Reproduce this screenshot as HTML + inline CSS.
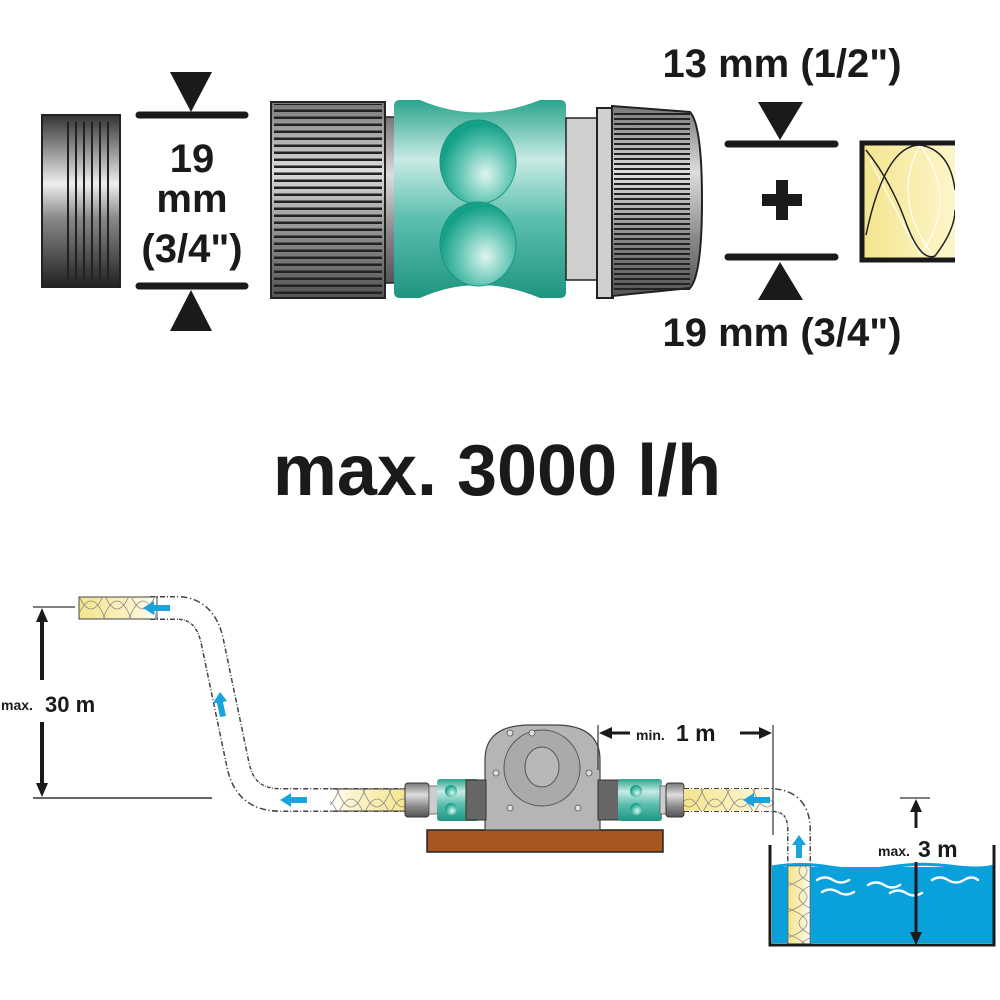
<!DOCTYPE html>
<html><head><meta charset="utf-8"><style>
html,body{margin:0;padding:0;background:#fff;}
svg{display:block;}
text{font-family:"Liberation Sans",sans-serif;font-weight:bold;fill:#1a1a1a;}
</style></head><body>
<svg width="1000" height="1000" viewBox="0 0 1000 1000" xmlns="http://www.w3.org/2000/svg">
<defs>
<linearGradient id="metal" x1="0" y1="0" x2="0" y2="1">
<stop offset="0" stop-color="#333"/><stop offset="0.4" stop-color="#eee"/><stop offset="0.6" stop-color="#888"/><stop offset="1" stop-color="#222"/>
</linearGradient>
<linearGradient id="gray" x1="0" y1="0" x2="0" y2="1">
<stop offset="0" stop-color="#777"/><stop offset="0.35" stop-color="#ddd"/><stop offset="0.7" stop-color="#888"/><stop offset="1" stop-color="#555"/>
</linearGradient>
<linearGradient id="green" x1="0" y1="0" x2="0" y2="1">
<stop offset="0" stop-color="#2aa48c"/><stop offset="0.3" stop-color="#c8ebe5"/><stop offset="0.6" stop-color="#5cbfae"/><stop offset="1" stop-color="#1e9580"/>
</linearGradient>
<radialGradient id="btn" cx="0.6" cy="0.65" r="0.6">
<stop offset="0" stop-color="#e0f5f1"/><stop offset="0.6" stop-color="#5cc3b0"/><stop offset="1" stop-color="#15a088"/>
</radialGradient>
<linearGradient id="yel" x1="0" y1="0" x2="1" y2="0">
<stop offset="0" stop-color="#f3e58e"/><stop offset="1" stop-color="#fdf6cc"/>
</linearGradient>
<linearGradient id="yel2" x1="0" y1="0" x2="1" y2="0">
<stop offset="0" stop-color="#f4e48a"/><stop offset="0.7" stop-color="#fbf3c8"/><stop offset="1" stop-color="#fff"/>
</linearGradient>
<pattern id="knurl" width="8" height="7" patternUnits="userSpaceOnUse"><rect y="4.5" width="8" height="2.5" fill="#222"/></pattern>
<pattern id="knurl2" width="8" height="5" patternUnits="userSpaceOnUse"><rect y="3" width="8" height="2" fill="#222"/></pattern>
<pattern id="wave" width="26" height="22" patternUnits="userSpaceOnUse"><path d="M0,0 Q13,30 26,0 M0,22 Q13,-8 26,22" fill="none" stroke="#888" stroke-width="0.8"/></pattern>
<pattern id="waveV" width="22" height="26" patternUnits="userSpaceOnUse"><path d="M0,0 Q30,13 0,26 M22,0 Q-8,13 22,26" fill="none" stroke="#888" stroke-width="0.8"/></pattern>
<clipPath id="hc"><rect x="864" y="145" width="91" height="113"/></clipPath>
</defs>

<rect x="42" y="115" width="78" height="172" fill="url(#metal)" stroke="#222" stroke-width="2"/>
<g stroke="#222" stroke-width="2">
<line x1="68" y1="122" x2="68" y2="280"/><line x1="76" y1="122" x2="76" y2="280"/><line x1="84" y1="122" x2="84" y2="280"/><line x1="92" y1="122" x2="92" y2="280"/><line x1="100" y1="122" x2="100" y2="280"/><line x1="108" y1="122" x2="108" y2="280"/>
</g>

<line x1="139" y1="115" x2="245" y2="115" stroke="#1a1a1a" stroke-width="7" stroke-linecap="round"/>
<line x1="139" y1="286" x2="245" y2="286" stroke="#1a1a1a" stroke-width="7" stroke-linecap="round"/>
<polygon points="170,72 212,72 191,112" fill="#1a1a1a"/>
<polygon points="170,331 212,331 191,290" fill="#1a1a1a"/>
<text x="192" y="172" font-size="40" text-anchor="middle">19</text>
<text x="192" y="212" font-size="40" text-anchor="middle">mm</text>
<text x="192" y="262" font-size="40" text-anchor="middle">(3/4")</text>

<rect x="380" y="117" width="16" height="166" fill="url(#gray)" stroke="#222" stroke-width="1.5"/>
<rect x="271" y="102" width="114" height="196" fill="url(#gray)" stroke="#222" stroke-width="2"/>
<rect x="274" y="104" width="108" height="192" fill="url(#knurl)"/>

<path d="M394,106 Q394,100 400,100 L420,100 Q478,125 540,100 L560,100 Q566,100 566,106 L566,292 Q566,298 560,298 L540,298 Q478,272 420,298 L400,298 Q394,298 394,292 Z" fill="url(#green)"/>
<ellipse cx="478" cy="162" rx="38" ry="42" fill="url(#btn)" stroke="#1e9580" stroke-width="1"/>
<ellipse cx="478" cy="244" rx="38" ry="42" fill="url(#btn)" stroke="#1e9580" stroke-width="1"/>

<rect x="566" y="118" width="34" height="162" fill="#cfcfcf" stroke="#222" stroke-width="1.5"/>
<rect x="597" y="108" width="16" height="190" fill="#d0d0d0" stroke="#222" stroke-width="2"/>
<path d="M612,106 L690,112 Q702,125 702,200 Q702,275 690,288 L612,296 Z" fill="url(#gray)" stroke="#222" stroke-width="2"/>
<rect x="614" y="112" width="76" height="178" fill="url(#knurl2)"/>

<text x="782" y="77" font-size="40" text-anchor="middle">13 mm (1/2")</text>
<polygon points="758,102 803,102 780,140" fill="#1a1a1a"/>
<line x1="728" y1="144" x2="835" y2="144" stroke="#1a1a1a" stroke-width="7" stroke-linecap="round"/>
<rect x="762" y="194" width="40" height="12" fill="#1a1a1a"/><rect x="776" y="180" width="12" height="40" fill="#1a1a1a"/>
<line x1="728" y1="257" x2="835" y2="257" stroke="#1a1a1a" stroke-width="7" stroke-linecap="round"/>
<polygon points="758,300 803,300 780,262" fill="#1a1a1a"/>
<text x="782" y="346" font-size="40" text-anchor="middle">19 mm (3/4")</text>

<g clip-path="url(#hc)">
<rect x="864" y="145" width="91" height="113" fill="url(#yel)"/>
<g fill="none" stroke="#fff" stroke-width="1.2"><path d="M870,160 Q890,200 920,255 M920,145 Q960,200 920,255 M920,145 Q890,200 935,258"/></g>
<g fill="none" stroke="#222" stroke-width="1.5"><path d="M866,235 Q885,145 920,145 Q950,150 955,190 M866,150 Q890,180 905,220 Q920,262 935,256 Q955,230 955,210"/></g>
</g>
<path d="M955,143 L862,143 L862,260 L955,260" fill="none" stroke="#1a1a1a" stroke-width="5"/>

<text x="497" y="495" font-size="72" text-anchor="middle">max. 3000 l/h</text>

<line x1="33" y1="607" x2="75" y2="607" stroke="#333" stroke-width="1.2"/>
<line x1="33" y1="798" x2="212" y2="798" stroke="#333" stroke-width="1.5"/>
<line x1="42" y1="620" x2="42" y2="680" stroke="#1a1a1a" stroke-width="4"/>
<line x1="42" y1="722" x2="42" y2="785" stroke="#1a1a1a" stroke-width="4"/>
<polygon points="36,622 48,622 42,608" fill="#1a1a1a"/>
<polygon points="36,783 48,783 42,797" fill="#1a1a1a"/>
<text x="1" y="710" font-size="14">max.</text>
<text x="45" y="712" font-size="22">30 m</text>

<path d="M150,608 L180,608 Q205,610 212,640 L238,765 Q245,800 280,800 L420,800" fill="none" stroke="#444" stroke-width="24" stroke-dasharray="5,2,1,2"/>
<path d="M150,608 L180,608 Q205,610 212,640 L238,765 Q245,800 280,800 L420,800" fill="none" stroke="#fff" stroke-width="21"/>
<rect x="79" y="597" width="78" height="22" fill="url(#yel2)" stroke="#444" stroke-width="1"/>
<rect x="80" y="598" width="76" height="20" fill="url(#wave)"/>
<rect x="330" y="789" width="80" height="22" fill="url(#yel2)" transform="rotate(180 370 800)"/>
<rect x="330" y="789" width="80" height="22" fill="url(#wave)"/>
<line x1="330" y1="789" x2="410" y2="789" stroke="#444"/><line x1="330" y1="811" x2="410" y2="811" stroke="#444"/>
<g fill="#1aa3dd">
<polygon points="143,608 154,601 154,605 170,605 170,611 154,611 154,615"/>
<polygon points="280,800 291,793 291,797 307,797 307,803 291,803 291,807"/>
<polygon points="220,692 213,703 217,703 220,717 226,716 223,702 227,701"/>
</g>

<rect x="427" y="830" width="236" height="22" fill="#a8561f" stroke="#222" stroke-width="1.5"/>
<path d="M485,830 L485,760 Q485,725 530,725 L555,725 Q600,725 600,760 L600,830 Z" fill="#b5b5b5" stroke="#444" stroke-width="1.2"/>
<circle cx="542" cy="768" r="38" fill="#aaa" stroke="#555"/>
<ellipse cx="542" cy="767" rx="17" ry="20" fill="#b8b8b8" stroke="#555"/>
<g fill="#ddd" stroke="#555" stroke-width="0.8"><circle cx="510" cy="733" r="3"/><circle cx="532" cy="733" r="3"/><circle cx="496" cy="773" r="3"/><circle cx="589" cy="773" r="3"/><circle cx="510" cy="808" r="3"/><circle cx="578" cy="808" r="3"/></g>
<rect x="405" y="783" width="24" height="34" rx="3" fill="url(#gray)" stroke="#333"/>
<rect x="429" y="786" width="10" height="28" fill="#ccc" stroke="#555" stroke-width="0.8"/>
<rect x="437" y="779" width="42" height="42" rx="3" fill="url(#green)"/>
<circle cx="451" cy="791" r="6" fill="url(#btn)"/><circle cx="451" cy="809" r="6" fill="url(#btn)"/>
<rect x="466" y="780" width="20" height="40" fill="#666" stroke="#333"/>
<rect x="598" y="780" width="22" height="40" fill="#666" stroke="#333"/>
<rect x="618" y="779" width="44" height="42" rx="3" fill="url(#green)"/>
<circle cx="636" cy="791" r="6" fill="url(#btn)"/><circle cx="636" cy="809" r="6" fill="url(#btn)"/>
<rect x="660" y="786" width="8" height="28" fill="#ccc" stroke="#555" stroke-width="0.8"/>
<rect x="666" y="783" width="18" height="34" rx="3" fill="url(#gray)" stroke="#333"/>

<path d="M684,800 L770,800 Q799,800 799,830 L799,945" fill="none" stroke="#444" stroke-width="24" stroke-dasharray="5,2,1,2"/>
<path d="M684,800 L770,800 Q799,800 799,830 L799,945" fill="none" stroke="#fff" stroke-width="21"/>
<rect x="684" y="789" width="90" height="22" fill="url(#yel2)"/>
<rect x="684" y="789" width="90" height="22" fill="url(#wave)"/>

<rect x="772" y="867" width="222" height="76" fill="#0aa0dc"/>
<path d="M772,867 Q800,862 830,867 T890,867 T950,866 T994,866" fill="none" stroke="#0aa0dc" stroke-width="3"/>
<rect x="788" y="866" width="22" height="78" fill="url(#yel2)" stroke="#666" stroke-width="0.8"/>
<rect x="788" y="866" width="22" height="78" fill="url(#waveV)"/>
<g fill="none" stroke="#fff" stroke-width="2.5" stroke-linecap="round">
<path d="M817,880 q8,-5 16,0 t16,0"/><path d="M868,885 q8,-5 16,0 t16,0"/><path d="M932,880 q8,-5 16,0 t16,0 t14,0"/>
<path d="M822,892 q8,-5 16,0 t16,0"/><path d="M890,893 q8,-5 16,0 t16,0"/>
</g>
<path d="M770,845 L770,945 L994,945 L994,845" fill="none" stroke="#1a1a1a" stroke-width="3"/>
<polygon points="799,835 792,845 796,845 796,858 802,858 802,845 806,845" fill="#1aa3dd"/>
<polygon points="743,800 754,793 754,797 770,797 770,803 754,803 754,807" fill="#1aa3dd"/>

<line x1="598" y1="725" x2="598" y2="770" stroke="#333" stroke-width="1.2"/>
<line x1="773" y1="725" x2="773" y2="835" stroke="#333" stroke-width="1.2"/>
<line x1="610" y1="733" x2="630" y2="733" stroke="#1a1a1a" stroke-width="3"/>
<polygon points="599,733 612,727 612,739" fill="#1a1a1a"/>
<line x1="740" y1="733" x2="760" y2="733" stroke="#1a1a1a" stroke-width="3"/>
<polygon points="772,733 759,727 759,739" fill="#1a1a1a"/>
<text x="636" y="740" font-size="14">min.</text>
<text x="676" y="741" font-size="23">1 m</text>

<line x1="900" y1="798" x2="930" y2="798" stroke="#333" stroke-width="1.2"/>
<line x1="916" y1="810" x2="916" y2="828" stroke="#1a1a1a" stroke-width="3"/>
<polygon points="910,812 922,812 916,799" fill="#1a1a1a"/>
<line x1="916" y1="862" x2="916" y2="935" stroke="#1a1a1a" stroke-width="3"/>
<polygon points="910,932 922,932 916,945" fill="#1a1a1a"/>
<text x="878" y="856" font-size="14">max.</text>
<text x="918" y="857" font-size="23">3 m</text>
</svg>
</body></html>
